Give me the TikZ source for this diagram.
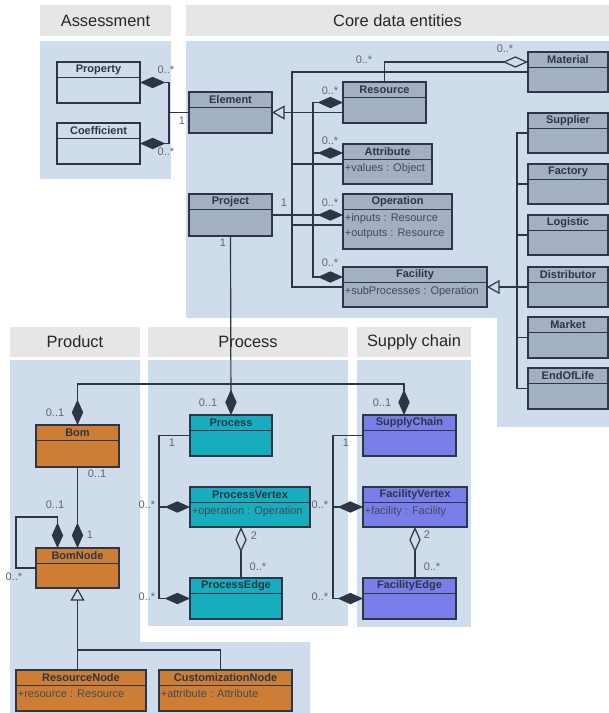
\documentclass[tikz,border=0pt]{standalone}
\usepackage{fontspec}
\setmainfont{Liberation Sans}
\usetikzlibrary{arrows.meta,calc}

\definecolor{panelblue}{RGB}{207,220,236}
\definecolor{bandgray}{RGB}{230,230,230}
\definecolor{clsgray}{RGB}{163,176,194}
\definecolor{clsorange}{RGB}{206,126,52}
\definecolor{clsteal}{RGB}{22,174,190}
\definecolor{clsviolet}{RGB}{122,126,232}
\definecolor{edgecol}{RGB}{44,54,70}
\definecolor{multcol}{RGB}{96,102,112}

\tikzset{every picture/.style={line width=0.75pt}}
\tikzset{
  umlbox/.style={draw=edgecol, line width=0.9pt, rectangle, anchor=north west, inner sep=0pt, outer sep=0pt},
  umltitle/.style={font=\fontsize{8.25}{10}\selectfont\bfseries, text=edgecol, inner sep=0pt},
  umlattr/.style={font=\fontsize{8.25}{11.25}\selectfont, text=edgecol!90, anchor=north west, align=left, inner xsep=1pt, inner ysep=3pt},
  mult/.style={font=\fontsize{8.25}{10}\selectfont, text=multcol, inner sep=0pt},
  bandtext/.style={font=\fontsize{12.3}{14}\selectfont, text=black!85, inner sep=0pt},
  conn/.style={draw=edgecol, line width=0.9pt},
  comp/.style={conn, -{Diamond[length=19pt, width=8.5pt]}},
  agg/.style={conn, -{Diamond[open, length=19pt, width=8.5pt]}},
  gen/.style={conn, -{Triangle[open, length=9.5pt, width=10.5pt]}},
}

% class box: fill, name, x, y, width, height, title, attributes
\newcommand{\umlclass}[8][clsgray]{%
  \node[umlbox, fill=#1, minimum width=#5*0.75pt, minimum height=#6*0.75pt] (#2) at (#3,#4) {};
  \draw[draw=edgecol, line width=0.9pt] ([yshift=11.5pt]#2.north west) -- ([yshift=11.5pt]#2.north east);
  \node[umltitle] (#2-t) at ([yshift=5.75pt]#2.north) {#7};
  \node[umlattr] (#2-a) at ([yshift=11.5pt]#2.north west) {#8};
}

\begin{document}
\begin{tikzpicture}[x=0.75pt,y=0.75pt,yscale=-1,xscale=1]
	\useasboundingbox (0,0) rectangle (609,713);

	%Shape: Panels
	\fill[bandgray] (40,5) rectangle (171,36);
	\fill[panelblue] (40,41) rectangle (171,179);
	\fill[bandgray] (186,5) rectangle (609,36);
	\fill[panelblue] (186,41) -- (609,41) -- (609,427) -- (497,427) -- (497,318) -- (186,318) -- cycle;
	\fill[bandgray] (10,327) rectangle (140,357);
	\fill[panelblue] (10,360) -- (140,360) -- (140,642) -- (310,642) -- (310,713) -- (10,713) -- cycle;
	\fill[bandgray] (148,327) rectangle (348,357);
	\fill[panelblue] (148,360) rectangle (348,626);
	\fill[bandgray] (357,327) rectangle (471,357);
	\fill[panelblue] (357,360) rectangle (471,627);

	% Text Node
	\node[bandtext] (hdr-assess) at (105.5,20.5) {Assessment};
	\node[bandtext] (hdr-core) at (397.5,20.5) {Core data entities};
	\node[bandtext] (hdr-product) at (75,342) {Product};
	\node[bandtext] (hdr-process) at (248,342) {Process};
	\node[bandtext] (hdr-supply) at (414,342) {Supply chain};

	%Shape: Class
	\umlclass[panelblue]{property}{57}{62}{83}{41}{Property}{}
	\umlclass[panelblue]{coefficient}{57}{123}{83}{41}{Coefficient}{}
	\umlclass{element}{189}{92}{83}{41}{Element}{}
	\umlclass{project}{189}{194}{83}{42}{Project}{}
	\umlclass{resource}{343}{82}{83}{41}{Resource}{}
	\umlclass{attribute}{343}{144}{89}{40}{Attribute}{+values : Object}
	\umlclass{operation}{343}{194}{109}{55}{Operation}{+inputs : Resource\\+outputs : Resource}
	\umlclass{facility}{343}{267}{144}{40}{Facility}{+subProcesses : Operation}
	\umlclass{material}{528}{52}{80}{40}{Material}{}
	\umlclass{supplier}{528}{113}{80}{40}{Supplier}{}
	\umlclass{factory}{528}{164}{80}{40}{Factory}{}
	\umlclass{logistic}{528}{215}{80}{40}{Logistic}{}
	\umlclass{distributor}{528}{267}{80}{40}{Distributor}{}
	\umlclass{market}{528}{317}{80}{41}{Market}{}
	\umlclass{endoflife}{528}{368}{80}{41}{EndOfLife}{}
	\umlclass[clsorange]{bom}{36}{425}{83}{42}{Bom}{}
	\umlclass[clsorange]{bomnode}{36}{548}{83}{40}{BomNode}{}
	\umlclass[clsorange]{resourcenode}{16}{670}{130}{41}{ResourceNode}{+resource : Resource}
	\umlclass[clsorange]{customizationnode}{159}{670}{133}{41}{CustomizationNode}{+attribute : Attribute}
	\umlclass[clsteal]{process}{190}{415}{82}{41}{Process}{}
	\umlclass[clsteal]{processvertex}{190}{487}{120}{40}{ProcessVertex}{+operation : Operation}
	\umlclass[clsteal]{processedge}{190}{578}{92}{41}{ProcessEdge}{}
	\umlclass[clsviolet]{supplychain}{363}{415}{93}{41}{SupplyChain}{}
	\umlclass[clsviolet]{facilityvertex}{363}{487}{104}{40}{FacilityVertex}{+facility : Facility}
	\umlclass[clsviolet]{facilityedge}{363}{578}{93}{41}{FacilityEdge}{}

	%Straight Lines: assessment
	\coordinate (asmbus) at ($(element.west)+(-20,0)$);
	\draw[conn] (element.west) -- (asmbus);
	\draw[comp] (asmbus) |- (property.east);
	\draw[comp] (asmbus) |- (coefficient.east);

	%Straight Lines: element generalization
	\coordinate (genbus) at ($(element.east)+(20,0)$);
	\draw[gen] (resource.west |- element.east) -- (element.east);
	\draw[conn] (material.west) -| (genbus);
	\draw[conn] (attribute.west) -| (genbus);
	\draw[conn] ($(operation.west)+(0,3.5)$) -| (genbus);
	\draw[conn] (facility.west) -| (genbus);

	%Straight Lines: project composition
	\coordinate (projbus) at ($(project.east)+(41,0)$);
	\draw[comp] (project.east) -- ($(operation.west)+(0,-6.5)$);
	\draw[comp] (projbus) |- (resource.west);
	\draw[comp] (projbus) |- ($(attribute.west)+(0,-11)$);
	\draw[comp] (projbus) |- ($(facility.west)+(0,-10)$);

	%Straight Lines: material aggregation
	\draw[agg] (resource.north) |- ($(material.west)+(0,-10)$);

	%Straight Lines: facility kinds
	\coordinate (facbus) at ($(facility.east)+(30,0)$);
	\draw[gen] (distributor.west) -- (facility.east);
	\draw[conn] (supplier.west) -| (facbus);
	\draw[conn] (factory.west) -| (facbus);
	\draw[conn] (logistic.west) -| (facbus);
	\draw[conn] (market.west) -| (facbus);
	\draw[conn] (endoflife.west) -| (facbus);

	%Straight Lines: project to process, bom, supply chain
	\coordinate (pbus) at ($(process.north)+(0,-31)$);
	\draw[comp] (project.south) -- (process.north);
	\draw[comp] (pbus) -| (bom.north);
	\draw[comp] (pbus) -| ($(supplychain.north)+(-5.5,0)$);

	%Straight Lines: process graph
	\coordinate (pvagg) at ($(processvertex.south)+(-9,0)$);
	\draw[comp] (process.west) -- ++(-31,0) |- (processvertex.west);
	\draw[comp] (process.west) -- ++(-31,0) |- (processedge.west);
	\draw[agg] (pvagg |- processedge.north) -- (pvagg);

	%Straight Lines: supply chain graph
	\draw[comp] (supplychain.west) -- ++(-30,0) |- (facilityvertex.west);
	\draw[comp] (supplychain.west) -- ++(-30,0) |- (facilityedge.west);
	\draw[agg] (facilityvertex.south |- facilityedge.north) -- (facilityvertex.south);

	%Straight Lines: bom
	\coordinate (bomgen) at ($(bomnode.south)+(0,62)$);
	\draw[comp] (bom.south) -- (bomnode.north);
	\draw[comp] (bomnode.west) -- ++(-20,0) |- ($(bomnode.north)+(-20,-31)$) -- ($(bomnode.north)+(-20,0)$);
	\draw[gen] (resourcenode.north -| bomnode.south) -- (bomnode.south);
	\draw[conn] ($(customizationnode.north)+(-5,0)$) |- (bomgen);

	% Text Node: multiplicities
	\node[mult] (m-prop) at (166,70) {0..*};
	\node[mult] (m-coef) at (166,152) {0..*};
	\node[mult] (m-elem) at (182,121) {1};
	\node[mult] (m-mat) at (505,49) {0..*};
	\node[mult] (m-res) at (364,60) {0..*};
	\node[mult] (m-c1) at (330,91) {0..*};
	\node[mult] (m-c2) at (330,141) {0..*};
	\node[mult] (m-c3) at (330,203) {0..*};
	\node[mult] (m-c4) at (330,263) {0..*};
	\node[mult] (m-proj) at (284,203) {1};
	\node[mult] (m-projs) at (223,243) {1};
	\node[mult] (m-bom) at (55,413) {0..1};
	\node[mult] (m-proc) at (208,403) {0..1};
	\node[mult] (m-sc) at (382,403) {0..1};
	\node[mult] (m-bomb) at (97,474) {0..1};
	\node[mult] (m-self) at (55,505) {0..1};
	\node[mult] (m-bn) at (90,535) {1};
	\node[mult] (m-selfs) at (14,577) {0..*};
	\node[mult] (m-p1) at (172,443) {1};
	\node[mult] (m-pv) at (147,505) {0..*};
	\node[mult] (m-pe) at (147,597) {0..*};
	\node[mult] (m-p2) at (254,536) {2};
	\node[mult] (m-p3) at (258,567) {0..*};
	\node[mult] (m-s1) at (346,443) {1};
	\node[mult] (m-fv) at (320,505) {0..*};
	\node[mult] (m-fe) at (320,597) {0..*};
	\node[mult] (m-s2) at (427,535) {2};
	\node[mult] (m-s3) at (432,567) {0..*};

\end{tikzpicture}
\end{document}
